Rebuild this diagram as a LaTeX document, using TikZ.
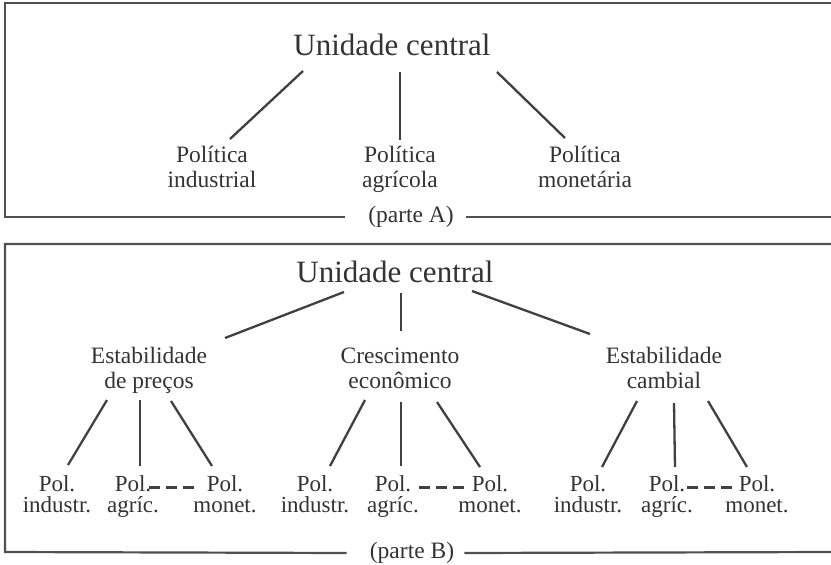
\documentclass[tikz,border=0pt]{standalone}
\usepackage{fontspec}
\setmainfont{Liberation Serif}
\definecolor{linegray}{HTML}{404040}
\definecolor{framegray}{HTML}{505050}
\definecolor{textgray}{HTML}{333333}
\tikzset{
  big/.style={font=\fontsize{31}{34}\selectfont, inner sep=0pt, anchor=base, text=textgray},
  mid/.style={font=\fontsize{23.5}{25}\selectfont, align=center, inner sep=0pt, anchor=base, text=textgray},
  leaf/.style={font=\fontsize{23}{20.5}\selectfont, align=center, inner sep=0pt, anchor=base, text=textgray},
  conn/.style={draw=linegray, line width=2.3pt},
  frame/.style={draw=framegray, line width=2.2pt},
  dots/.style={draw=linegray, line width=2.8pt, dash pattern=on 11pt off 6pt},
}
\begin{document}
\begin{tikzpicture}[x=1pt,y=-1pt]
        \useasboundingbox (0,0) rectangle (831,565);
        % parte A
        \node[big] (ucA) at (392,55) {Unidade central};
        \node[mid] (piA) at (212,187) {Política\\industrial};
        \node[mid] (paA) at (400,187) {Política\\agrícola};
        \node[mid] (pmA) at (585,187) {Política\\monetária};
        \draw[conn] ([shift={(-89,16)}]ucA.base) -- ([shift={(18,-48)}]piA.base);
        \draw[conn] ([shift={(8,17)}]ucA.base) -- ([shift={(0,-47)}]paA.base);
        \draw[conn] ([shift={(105,17)}]ucA.base) -- ([shift={(-20,-49)}]pmA.base);
        \node[mid, anchor=center] (tA) at (411,217) {(parte A)};
        \draw[frame] (831,3) -| (5,217) -- ([xshift=-23pt]tA.west);
        \draw[frame] ([xshift=12pt]tA.east) -- (831,217);
        % parte B
        \node[big] (ucB) at (395,282) {Unidade central};
        \node[mid] (epB) at (149,388) {Estabilidade\\de preços};
        \node[mid] (ceB) at (400,388) {Crescimento\\econômico};
        \node[mid] (ecB) at (664,388) {Estabilidade\\cambial};
        \draw[conn] ([shift={(-51,10)}]ucB.base) -- ([shift={(76,-50)}]epB.base);
        \draw[conn] ([shift={(6,11)}]ucB.base) -- ([shift={(1,-57)}]ceB.base);
        \draw[conn] ([shift={(77,9)}]ucB.base) -- ([shift={(-74,-54)}]ecB.base);
        \node[leaf] (b11) at (57,512) {Pol.\\industr.};
        \node[leaf] (b12) at (133,512) {Pol.\\agríc.};
        \node[leaf] (b13) at (225,512) {Pol.\\monet.};
        \node[leaf] (b21) at (315,512) {Pol.\\industr.};
        \node[leaf] (b22) at (393,512) {Pol.\\agríc.};
        \node[leaf] (b23) at (490,512) {Pol.\\monet.};
        \node[leaf] (b31) at (588,512) {Pol.\\industr.};
        \node[leaf] (b32) at (667,512) {Pol.\\agríc.};
        \node[leaf] (b33) at (757,512) {Pol.\\monet.};
        \draw[conn] ([shift={(-42,12)}]epB.base) -- ([shift={(11,-47)}]b11.base);
        \draw[conn] ([shift={(-9,12)}]epB.base) -- ([shift={(7,-46)}]b12.base);
        \draw[conn] ([shift={(22,13)}]epB.base) -- ([shift={(-13,-46)}]b13.base);
        \draw[conn] ([shift={(-35,12)}]ceB.base) -- ([shift={(15,-46)}]b21.base);
        \draw[conn] ([shift={(1,14)}]ceB.base) -- ([shift={(8,-46)}]b22.base);
        \draw[conn] ([shift={(37,14)}]ceB.base) -- ([shift={(-10,-45)}]b23.base);
        \draw[conn] ([shift={(-27,13)}]ecB.base) -- ([shift={(14,-45)}]b31.base);
        \draw[conn] ([shift={(10,15)}]ecB.base) -- ([shift={(8,-45)}]b32.base);
        \draw[conn] ([shift={(44,13)}]ecB.base) -- ([shift={(-10,-45)}]b33.base);
        \draw[dots] ([shift={(16,-24.5)}]b12.base) -- ([shift={(-26,-24.5)}]b13.base);
        \draw[dots] ([shift={(26,-24.5)}]b22.base) -- ([shift={(-26,-24.5)}]b23.base);
        \draw[dots] ([shift={(20,-24.5)}]b32.base) -- ([shift={(-25,-24.5)}]b33.base);
        \node[mid, anchor=center] (tB) at (412,553) {(parte B)};
        \draw[frame] (831,244) -| (5,552) -- ([xshift=-23pt]tB.west);
        \draw[frame] ([xshift=10pt]tB.east) -- (831,552);
\end{tikzpicture}
\end{document}
